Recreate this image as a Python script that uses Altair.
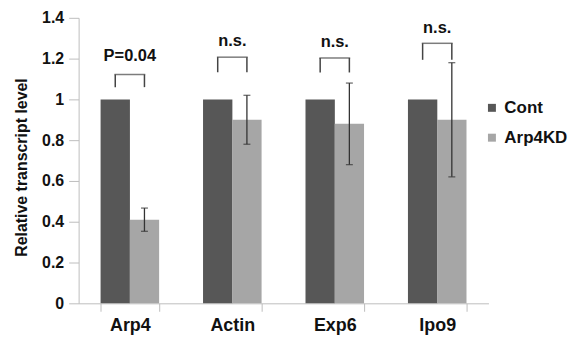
import altair as alt
import pandas as pd

categories = ["Arp4", "Actin", "Exp6", "Ipo9"]
series = ["Cont", "Arp4KD"]
cont_values = [1.0, 1.0, 1.0, 1.0]
kd_values = [0.41, 0.90, 0.88, 0.90]
kd_errors = [0.057, 0.12, 0.20, 0.28]
y_ticks = [0, 0.2, 0.4, 0.6, 0.8, 1.0, 1.2, 1.4]

sig_labels = ["P=0.04", "n.s.", "n.s.", "n.s."]
bracket_top = [1.122, 1.207, 1.203, 1.275]
bracket_leg = [1.06, 1.133, 1.132, 1.194]
label_y = [1.215, 1.285, 1.28, 1.352]

colors = ["#575757", "#a6a6a6"]
FONT = "Liberation Sans"

bars = pd.DataFrame({
    "category": categories * 2,
    "series": ["Cont"] * 4 + ["Arp4KD"] * 4,
    "value": cont_values + kd_values,
})
err = pd.DataFrame({
    "category": categories,
    "series": ["Arp4KD"] * 4,
    "lo": [v - e for v, e in zip(kd_values, kd_errors)],
    "hi": [v + e for v, e in zip(kd_values, kd_errors)],
})
legs = pd.DataFrame({
    "category": categories * 2,
    "series": ["Cont"] * 4 + ["Arp4KD"] * 4,
    "top": bracket_top * 2,
    "leg": bracket_leg * 2,
})
ann = pd.DataFrame({
    "category": categories,
    "top": bracket_top,
    "label": sig_labels,
    "ly": label_y,
})

x_enc = alt.X(
    "category:N",
    sort=categories,
    scale=alt.Scale(paddingInner=0.43, paddingOuter=0.215),
    axis=alt.Axis(
        title=None, labelAngle=0, labelFont=FONT, labelFontSize=18,
        labelFontWeight="bold", labelColor="#111", tickBand="extent",
        tickSize=8, labelPadding=5, domainColor="#bdbdbd", tickColor="#bdbdbd",
    ),
)
xoff = alt.XOffset("series:N", sort=series, scale=alt.Scale(domain=series, paddingInner=0, paddingOuter=0))
y_scale = alt.Scale(domain=[0, 1.4], nice=False)

bar_layer = alt.Chart(bars).mark_bar(size=29.5).encode(
    x=x_enc,
    xOffset=xoff,
    y=alt.Y(
        "value:Q", scale=y_scale,
        axis=alt.Axis(
            values=y_ticks, format="~f", title="Relative transcript level",
            titleFont=FONT, titleFontSize=16, titleFontWeight="bold", titleColor="#111",
            titleY=150,
            labelFont=FONT, labelFontSize=16, labelFontWeight="bold", labelColor="#111",
            grid=False, tickSize=10, labelPadding=5, titlePadding=12,
            domainColor="#bdbdbd", tickColor="#bdbdbd",
        ),
    ),
    color=alt.Color(
        "series:N", sort=series,
        scale=alt.Scale(domain=series, range=colors),
        legend=alt.Legend(
            title=None, orient="none", legendX=407, legendY=82,
            symbolType="square", symbolSize=64, symbolStrokeWidth=0,
            labelFont=FONT, labelFontSize=17, labelFontWeight="bold", labelColor="#111",
            rowPadding=12, labelOffset=4,
        ),
    ),
)

err_rule = alt.Chart(err).mark_rule(color="#333", strokeWidth=1.3).encode(
    x=alt.X("category:N", sort=categories),
    xOffset=alt.XOffset("series:N", sort=series),
    y="lo:Q",
    y2="hi:Q",
)
err_cap_lo = alt.Chart(err).mark_tick(color="#333", size=7, thickness=1.3).encode(
    x=alt.X("category:N", sort=categories),
    xOffset=alt.XOffset("series:N", sort=series),
    y="lo:Q",
)
err_cap_hi = alt.Chart(err).mark_tick(color="#333", size=7, thickness=1.3).encode(
    x=alt.X("category:N", sort=categories),
    xOffset=alt.XOffset("series:N", sort=series),
    y="hi:Q",
)

leg_layer = alt.Chart(legs).mark_rule(color="#444", strokeWidth=1.5).encode(
    x=alt.X("category:N", sort=categories),
    xOffset=alt.XOffset("series:N", sort=series),
    y="top:Q",
    y2="leg:Q",
)
bracket_h = alt.Chart(ann).mark_tick(color="#444", size=31, thickness=1.5).encode(
    x=alt.X("category:N", sort=categories),
    y="top:Q",
)
text_layer = alt.Chart(ann).mark_text(
    font=FONT, fontSize=16.5, fontWeight="bold", color="#111", baseline="middle"
).encode(
    x=alt.X("category:N", sort=categories),
    y="ly:Q",
    text="label:N",
)

chart = alt.layer(
    bar_layer, err_rule, err_cap_lo, err_cap_hi, leg_layer, bracket_h, text_layer
).properties(
    width=412, height=287,
    padding={"left": 5, "top": 1, "right": 5, "bottom": 0},
).configure_view(stroke=None)

chart.save("out.html", embed_options={"renderer": "svg", "actions": False})
